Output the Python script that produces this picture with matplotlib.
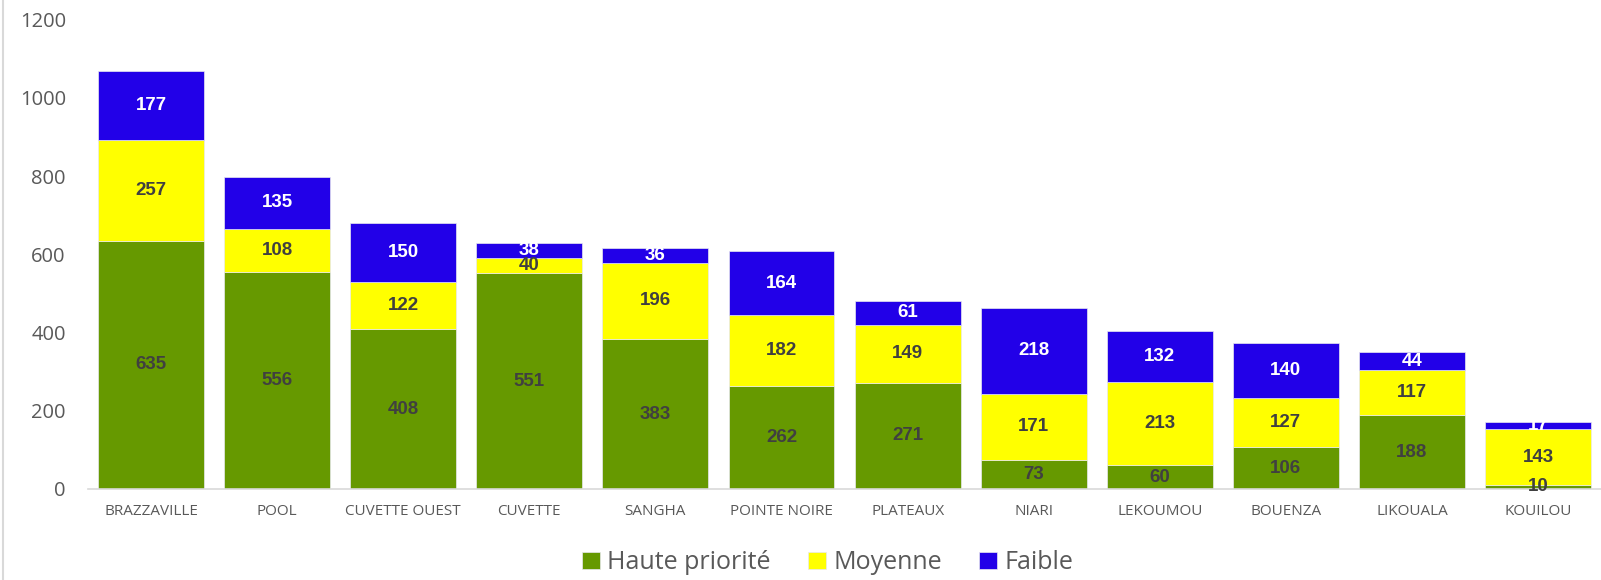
import matplotlib
matplotlib.use('Agg')
import matplotlib.pyplot as plt
import numpy as np
from matplotlib.lines import Line2D

# Departements and their counts by priority level
departements = ['BRAZZAVILLE', 'POOL', 'CUVETTE OUEST', 'CUVETTE', 'SANGHA', 'POINTE NOIRE',
                'PLATEAUX', 'NIARI', 'LEKOUMOU', 'BOUENZA', 'LIKOUALA', 'KOUILOU']
haute = [635, 556, 408, 551, 383, 262, 271, 73, 60, 106, 188, 10]
moyenne = [257, 108, 122, 40, 196, 182, 149, 171, 213, 127, 117, 143]
faible = [177, 135, 150, 38, 36, 164, 61, 218, 132, 140, 44, 17]

series = [
    ('Haute priorité', haute, '#669900', '#404040'),
    ('Moyenne', moyenne, '#FFFF00', '#404040'),
    ('Faible', faible, '#2200E8', 'white'),
]

fig = plt.figure(figsize=(16.01, 5.8), dpi=100)
ax = fig.add_axes([0.055, 0.157, 0.945, 0.809])

x = np.arange(len(departements))
bottom = np.zeros(len(departements))
for name, vals, color, txt_color in series:
    vals = np.array(vals, dtype=float)
    ax.bar(x, vals, bottom=bottom, width=0.84, color=color, edgecolor='#e8e8f0',
           linewidth=0.5, label=name, zorder=2)
    for xi, b, v in zip(x, bottom, vals):
        ax.text(xi, b + v / 2, f'{int(v)}', ha='center', va='center',
                fontsize=13.5, fontweight='bold', color=txt_color,
                family='Liberation Sans', zorder=3)
    bottom += vals

ax.set_xlim(-0.5, len(departements) - 0.5)
ax.set_ylim(0, 1200)
ax.set_yticks(range(0, 1201, 200))
ax.set_xticks(x)
ax.set_xticklabels(departements, fontsize=11, color='#595959', family='Open Sans')
for lbl in ax.get_yticklabels():
    lbl.set_fontsize(14.5)
    lbl.set_color('#595959')
    lbl.set_family('Open Sans')
ax.tick_params(axis='both', length=0)
ax.tick_params(axis='x', pad=11)
ax.tick_params(axis='y', pad=16)
for side in ['top', 'right', 'left']:
    ax.spines[side].set_visible(False)
ax.spines['bottom'].set_color('#d9d9d9')
ax.spines['bottom'].set_linewidth(1.2)

# chart area border on the left
fig.add_artist(Line2D([0.002, 0.002], [0, 1], transform=fig.transFigure,
                      color='#d9d9d9', linewidth=1.5))

leg = fig.legend(loc='center', bbox_to_anchor=(0.517, 0.03), ncol=3, frameon=False,
                 prop={'family': 'Open Sans', 'size': 18}, handlelength=0.7,
                 handleheight=0.7, handletextpad=0.3, columnspacing=1.5)
for t in leg.get_texts():
    t.set_color('#595959')

fig.savefig('out.png', dpi=100)
